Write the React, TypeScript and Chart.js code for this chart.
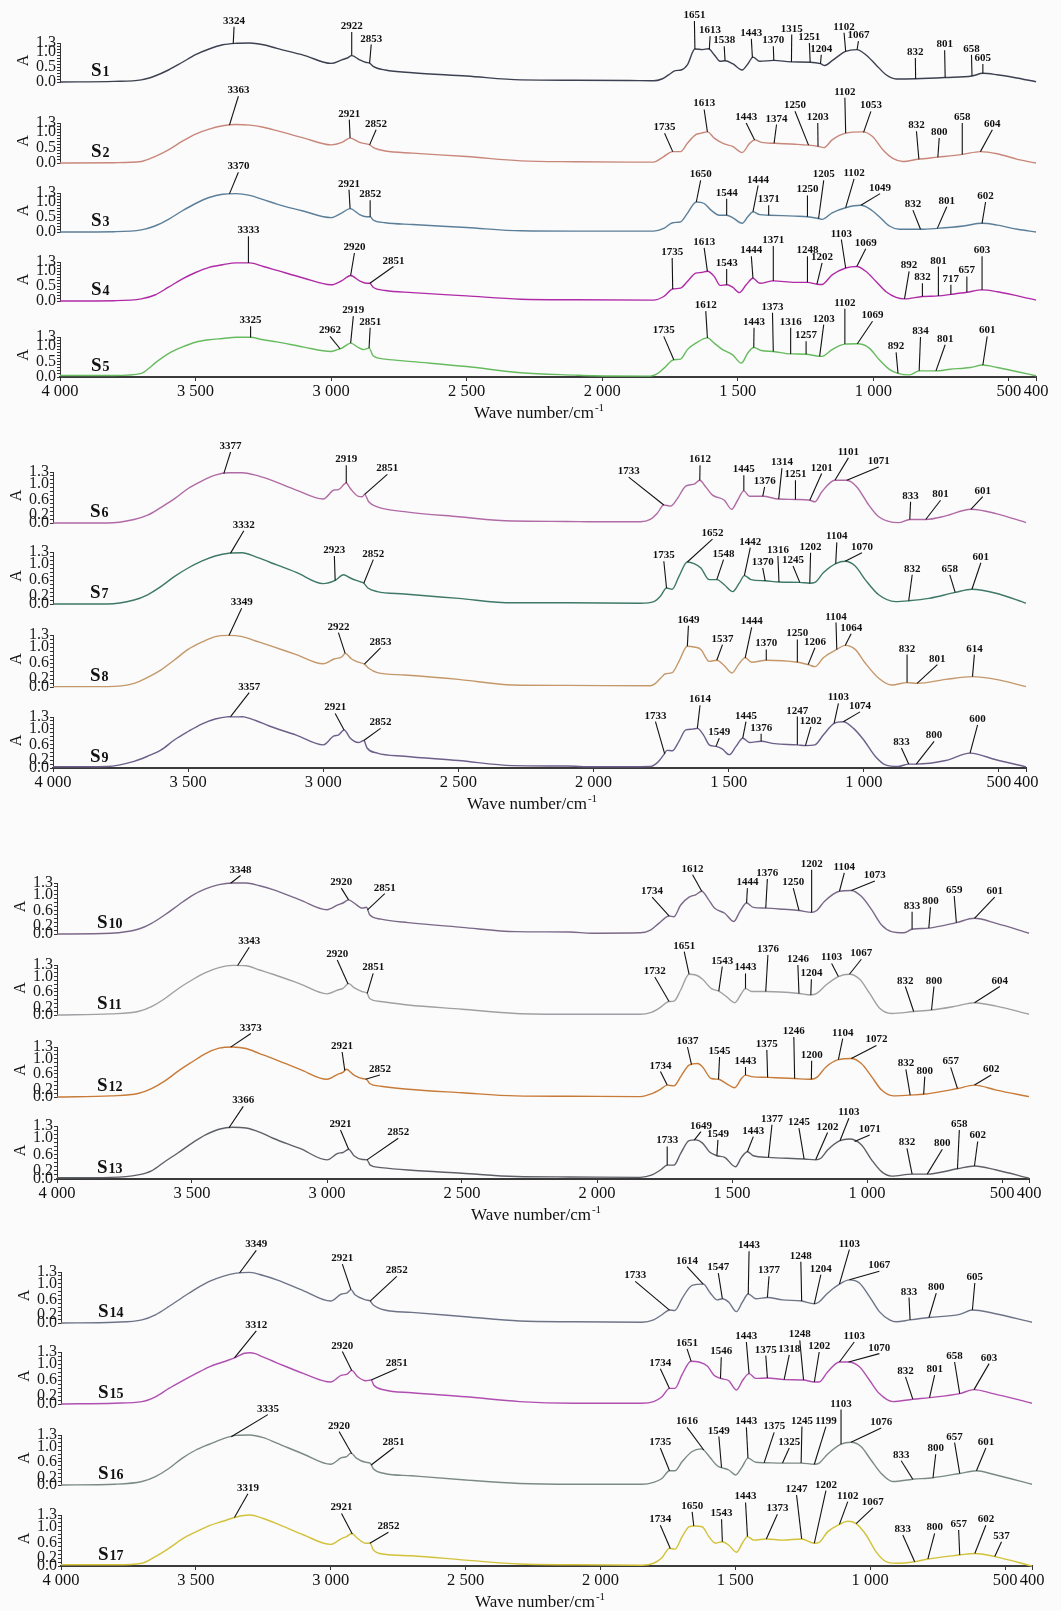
import React, { useEffect, useRef } from 'react';
import { Chart, registerables } from 'chart.js';
Chart.register(...registerables);

type Pt = [number, number];
type Peak = [string, number, number, number]; // label, wavenumber on curve, label wavenumber, label height (A)

const X_TICKS = [4000, 3500, 3000, 2500, 2000, 1500, 1000, 500, 400];
const Y_LABELS_A = [0, 0.5, 1.0, 1.3];
const Y_LABELS_B = [0, 0.2, 0.6, 1.0, 1.3];
const SAMPLE_NAMES = ['S1','S2','S3','S4','S5','S6','S7','S8','S9','S10','S11','S12','S13','S14','S15','S16','S17'];
const SAMPLE_COLORS = ['#3c4050','#c8877a','#5b7f99','#b02aa8','#66bb5e','#b06aa5','#3e7868','#c4986a','#6c5f8a','#7a6888','#a0a0a4','#c87a38','#5e6068','#6e7488','#b04fb0','#7c8a84','#d2c23a'];

const S1_CURVE: Pt[] = [[4000,0.0],[3800,0.02],[3700,0.07],[3650,0.20],[3600,0.40],[3550,0.65],[3500,0.91],[3450,1.10],[3400,1.24],[3350,1.29],[3300,1.30],[3250,1.24],[3200,1.12],[3100,0.89],[3000,0.62],[2960,0.74],[2940,0.80],[2924,0.88],[2895,0.74],[2870,0.65],[2858,0.63],[2845,0.52],[2800,0.40],[2700,0.31],[2500,0.20],[2300,0.07],[2100,0.06],[1900,0.05],[1811,0.04],[1780,0.10],[1755,0.24],[1730,0.38],[1709,0.40],[1686,0.57],[1658,1.10],[1630,1.08],[1608,1.11],[1587,0.91],[1565,0.69],[1547,0.71],[1519,0.61],[1484,0.40],[1463,0.60],[1444,0.83],[1419,0.69],[1367,0.72],[1304,0.67],[1233,0.66],[1195,0.61],[1179,0.55],[1152,0.71],[1102,1.02],[1061,1.08],[1028,0.91],[990,0.57],[953,0.24],[916,0.10],[844,0.11],[735,0.15],[636,0.20],[596,0.29],[543,0.24],[481,0.15],[400,0.01]];
const S1_PEAKS: Peak[] = [['3324',3361,3358,1.84],['2922',2924,2924,1.67],['2853',2858,2852,1.25],['1651',1658,1660,2.03],['1613',1605,1602,1.53],['1538',1547,1550,1.19],['1443',1446,1450,1.44],['1370',1367,1369,1.19],['1315',1302,1301,1.58],['1251',1233,1236,1.30],['1204',1195,1192,0.91],['1102',1102,1108,1.64],['1067',1060,1055,1.36],['832',844,845,0.80],['801',735,737,1.06],['658',636,638,0.91],['605',596,596,0.60]];

const S2_CURVE: Pt[] = [[4000,0.0],[3800,0.01],[3700,0.05],[3650,0.21],[3600,0.43],[3550,0.70],[3500,0.94],[3450,1.10],[3400,1.21],[3350,1.25],[3300,1.23],[3250,1.16],[3200,1.05],[3100,0.81],[3000,0.59],[2960,0.67],[2930,0.81],[2895,0.67],[2870,0.62],[2858,0.59],[2840,0.48],[2800,0.39],[2700,0.32],[2500,0.21],[2300,0.07],[2100,0.04],[1900,0.03],[1811,0.03],[1798,0.07],[1773,0.21],[1740,0.37],[1711,0.37],[1686,0.64],[1655,0.92],[1635,0.97],[1612,1.01],[1587,0.81],[1550,0.62],[1519,0.54],[1484,0.34],[1456,0.64],[1438,0.75],[1413,0.67],[1363,0.64],[1289,0.61],[1239,0.58],[1204,0.54],[1183,0.50],[1152,0.75],[1102,0.97],[1040,1.01],[1003,0.86],[965,0.43],[928,0.15],[891,0.05],[835,0.12],[760,0.19],[671,0.28],[605,0.37],[543,0.30],[468,0.12],[400,0.0]];
const S2_PEAKS: Peak[] = [['3363',3375,3342,2.17],['2921',2930,2933,1.41],['2852',2858,2834,1.08],['1735',1740,1770,0.97],['1613',1612,1624,1.74],['1443',1438,1469,1.30],['1374',1366,1357,1.25],['1250',1239,1289,1.68],['1203',1204,1205,1.30],['1102',1102,1105,2.12],['1053',1036,1009,1.68],['832',832,841,1.03],['800',762,757,0.81],['658',672,672,1.30],['604',605,561,1.08]];

const S3_CURVE: Pt[] = [[4000,0.0],[3800,0.01],[3700,0.07],[3650,0.20],[3600,0.42],[3550,0.70],[3500,0.95],[3450,1.15],[3400,1.26],[3350,1.28],[3300,1.22],[3250,1.08],[3200,0.93],[3100,0.69],[3000,0.48],[2960,0.64],[2930,0.78],[2895,0.58],[2870,0.51],[2856,0.51],[2845,0.40],[2800,0.31],[2700,0.25],[2500,0.15],[2300,0.04],[2100,0.03],[1811,0.03],[1773,0.12],[1740,0.31],[1711,0.34],[1686,0.62],[1653,1.00],[1624,0.95],[1599,0.73],[1568,0.56],[1541,0.56],[1519,0.48],[1484,0.29],[1463,0.51],[1444,0.67],[1419,0.58],[1386,0.56],[1289,0.53],[1243,0.51],[1202,0.45],[1189,0.42],[1152,0.64],[1102,0.81],[1046,0.89],[1015,0.78],[978,0.51],[941,0.20],[903,0.09],[826,0.09],[764,0.12],[667,0.20],[599,0.29],[543,0.23],[468,0.09],[400,0.0]];
const S3_PEAKS: Peak[] = [['3370',3375,3342,1.99],['2921',2930,2934,1.41],['2852',2856,2856,1.06],['1650',1653,1637,1.72],['1544',1541,1541,1.11],['1444',1444,1425,1.55],['1371',1386,1386,0.89],['1250',1243,1243,1.22],['1205',1202,1183,1.72],['1102',1102,1071,1.77],['1049',1046,975,1.28],['832',826,854,0.73],['801',764,729,0.84],['602',599,586,1.00]];

const S4_CURVE: Pt[] = [[4000,0.0],[3800,0.01],[3700,0.07],[3650,0.20],[3600,0.46],[3550,0.73],[3500,0.95],[3450,1.12],[3400,1.21],[3350,1.27],[3300,1.27],[3250,1.15],[3200,1.02],[3100,0.76],[3000,0.54],[2960,0.68],[2928,0.85],[2895,0.67],[2870,0.59],[2857,0.59],[2845,0.46],[2800,0.35],[2700,0.28],[2500,0.17],[2300,0.06],[2100,0.04],[1811,0.03],[1773,0.15],[1740,0.40],[1711,0.43],[1686,0.65],[1655,0.93],[1635,0.95],[1612,0.99],[1587,0.82],[1565,0.52],[1541,0.54],[1519,0.46],[1494,0.28],[1469,0.54],[1444,0.76],[1419,0.59],[1369,0.67],[1289,0.62],[1243,0.62],[1208,0.56],[1190,0.55],[1152,0.87],[1102,1.10],[1061,1.15],[1028,0.99],[990,0.65],[953,0.31],[916,0.12],[885,0.07],[819,0.15],[760,0.17],[714,0.22],[655,0.29],[599,0.37],[543,0.31],[468,0.17],[400,0.03]];
const S4_PEAKS: Peak[] = [['3333',3305,3305,2.16],['2920',2928,2914,1.60],['2851',2857,2770,1.15],['1735',1740,1742,1.43],['1613',1612,1624,1.77],['1543',1541,1541,1.07],['1444',1444,1450,1.49],['1371',1369,1369,1.83],['1248',1243,1243,1.49],['1202',1208,1189,1.27],['1103',1102,1118,2.05],['1069',1061,1028,1.74],['892',885,868,0.99],['832',819,819,0.59],['801',760,760,1.15],['717',714,714,0.54],['657',655,655,0.82],['603',599,599,1.49]];

const S5_CURVE: Pt[] = [[4000,0.05],[3800,0.05],[3700,0.12],[3670,0.30],[3650,0.45],[3600,0.76],[3550,0.97],[3500,1.13],[3450,1.21],[3400,1.25],[3350,1.29],[3300,1.29],[3250,1.21],[3200,1.14],[3100,0.97],[3000,0.83],[2970,0.91],[2960,0.94],[2928,1.10],[2900,0.96],[2880,0.89],[2860,0.94],[2845,0.69],[2800,0.58],[2700,0.50],[2500,0.34],[2300,0.14],[2100,0.06],[2034,0.04],[1823,0.03],[1798,0.10],[1773,0.28],[1736,0.56],[1711,0.58],[1686,0.89],[1655,1.10],[1612,1.27],[1587,1.10],[1556,0.89],[1519,0.72],[1487,0.45],[1463,0.78],[1441,0.96],[1413,0.86],[1369,0.83],[1305,0.75],[1248,0.74],[1198,0.67],[1183,0.69],[1152,0.89],[1105,1.07],[1059,1.08],[1015,0.94],[978,0.56],[941,0.25],[909,0.12],[866,0.07],[831,0.20],[769,0.20],[717,0.25],[642,0.31],[596,0.39],[543,0.31],[468,0.17],[400,0.04]];
const S5_PEAKS: Peak[] = [['3325',3297,3297,1.65],['2962',2967,3004,1.32],['2919',2928,2918,1.98],['2851',2860,2856,1.60],['1735',1736,1773,1.32],['1612',1612,1618,2.14],['1443',1441,1440,1.60],['1373',1369,1372,2.09],['1316',1305,1305,1.60],['1257',1248,1248,1.16],['1203',1198,1183,1.70],['1102',1105,1105,2.22],['1069',1059,1003,1.81],['892',909,916,0.80],['834',831,826,1.30],['801',769,735,1.05],['601',596,580,1.32]];

const S6_CURVE: Pt[] = [[4000,0.0],[3800,0.0],[3700,0.09],[3650,0.20],[3600,0.40],[3550,0.62],[3500,0.88],[3450,1.07],[3400,1.22],[3350,1.28],[3300,1.28],[3250,1.22],[3200,1.11],[3100,0.84],[3000,0.61],[2960,0.84],[2944,0.85],[2915,1.02],[2900,0.88],[2870,0.68],[2856,0.67],[2847,0.73],[2832,0.54],[2800,0.41],[2700,0.29],[2500,0.16],[2300,0.05],[2100,0.04],[2001,0.03],[1827,0.03],[1790,0.09],[1765,0.24],[1740,0.46],[1715,0.43],[1690,0.62],[1659,0.94],[1628,0.99],[1607,1.09],[1585,0.92],[1560,0.71],[1516,0.58],[1489,0.35],[1467,0.58],[1444,0.82],[1423,0.68],[1374,0.68],[1315,0.61],[1253,0.60],[1200,0.58],[1181,0.54],[1156,0.79],[1107,1.09],[1063,1.09],[1026,0.92],[982,0.46],[945,0.16],[871,0.01],[830,0.09],[771,0.09],[697,0.18],[604,0.35],[511,0.24],[400,0.01]];
const S6_PEAKS: Peak[] = [['3377',3368,3343,1.81],['2919',2915,2915,1.47],['2851',2847,2763,1.24],['1733',1740,1870,1.17],['1612',1607,1606,1.47],['1445',1444,1444,1.22],['1376',1374,1367,0.92],['1314',1315,1303,1.40],['1251',1253,1253,1.09],['1201',1200,1156,1.26],['1101',1107,1057,1.66],['1071',1063,945,1.43],['833',830,827,0.54],['801',771,716,0.58],['601',604,560,0.67]];

const S7_CURVE: Pt[] = [[4000,0.0],[3800,0.0],[3700,0.10],[3650,0.23],[3600,0.44],[3550,0.69],[3500,0.90],[3450,1.07],[3400,1.20],[3350,1.27],[3300,1.28],[3250,1.18],[3200,1.05],[3100,0.79],[3000,0.51],[2956,0.59],[2925,0.73],[2900,0.65],[2870,0.57],[2850,0.52],[2835,0.40],[2800,0.31],[2700,0.25],[2500,0.14],[2300,0.03],[2100,0.03],[1827,0.02],[1777,0.06],[1752,0.20],[1730,0.40],[1709,0.37],[1684,0.69],[1653,1.05],[1628,1.01],[1603,0.90],[1572,0.61],[1544,0.61],[1516,0.48],[1485,0.31],[1461,0.52],[1442,0.71],[1417,0.61],[1365,0.58],[1314,0.55],[1237,0.54],[1200,0.52],[1181,0.54],[1150,0.78],[1104,1.01],[1069,1.07],[1032,0.95],[995,0.61],[945,0.23],[883,0.06],[834,0.08],[759,0.14],[662,0.29],[600,0.37],[511,0.27],[400,0.02]];
const S7_PEAKS: Peak[] = [['3332',3343,3294,1.83],['2923',2956,2959,1.20],['2852',2850,2815,1.11],['1735',1730,1740,1.07],['1652',1653,1560,1.62],['1548',1544,1519,1.11],['1442',1442,1420,1.41],['1370',1365,1374,0.90],['1316',1314,1318,1.20],['1245',1237,1262,0.95],['1202',1200,1197,1.28],['1104',1104,1100,1.54],['1070',1069,1007,1.28],['832',834,821,0.73],['658',662,682,0.73],['601',600,567,1.03]];

const S8_CURVE: Pt[] = [[4000,0.01],[3800,0.01],[3700,0.09],[3650,0.24],[3600,0.43],[3550,0.68],[3500,0.94],[3450,1.12],[3400,1.26],[3350,1.29],[3300,1.26],[3250,1.15],[3200,1.04],[3100,0.81],[3000,0.58],[2960,0.70],[2932,0.75],[2919,0.84],[2895,0.70],[2870,0.62],[2848,0.57],[2832,0.47],[2800,0.36],[2700,0.30],[2500,0.19],[2300,0.05],[2100,0.04],[1790,0.03],[1771,0.09],[1752,0.22],[1734,0.33],[1709,0.36],[1684,0.64],[1653,1.02],[1628,1.00],[1603,0.94],[1572,0.64],[1544,0.67],[1516,0.53],[1488,0.35],[1464,0.56],[1439,0.73],[1415,0.62],[1361,0.67],[1246,0.62],[1206,0.56],[1181,0.51],[1150,0.73],[1100,0.94],[1069,1.04],[1032,0.94],[995,0.60],[945,0.22],[896,0.05],[840,0.11],[803,0.09],[697,0.19],[598,0.26],[511,0.19],[400,0.01]];
const S8_PEAKS: Peak[] = [['3349',3349,3302,1.97],['2922',2919,2944,1.36],['2853',2848,2788,0.98],['1649',1653,1649,1.53],['1537',1544,1523,1.06],['1444',1439,1415,1.49],['1370',1361,1361,0.94],['1250',1246,1246,1.19],['1206',1206,1181,0.98],['1104',1100,1103,1.61],['1064',1069,1047,1.33],['832',840,840,0.81],['801',803,728,0.56],['614',598,591,0.81]];

const S9_CURVE: Pt[] = [[4000,0.03],[3800,0.04],[3700,0.17],[3650,0.30],[3600,0.46],[3550,0.72],[3500,0.93],[3450,1.12],[3400,1.25],[3350,1.31],[3300,1.31],[3250,1.21],[3200,1.07],[3100,0.84],[3000,0.59],[2960,0.82],[2944,0.84],[2923,0.97],[2900,0.76],[2870,0.65],[2850,0.70],[2838,0.51],[2800,0.38],[2700,0.30],[2500,0.19],[2300,0.06],[2100,0.05],[2000,0.03],[1790,0.04],[1765,0.13],[1740,0.34],[1728,0.45],[1709,0.44],[1684,0.68],[1659,0.97],[1634,0.99],[1616,1.01],[1593,0.84],[1572,0.59],[1547,0.55],[1523,0.48],[1498,0.34],[1473,0.55],[1448,0.76],[1423,0.65],[1380,0.68],[1330,0.62],[1246,0.59],[1216,0.57],[1181,0.59],[1150,0.84],[1110,1.14],[1076,1.18],[1038,1.01],[1001,0.72],[958,0.30],[920,0.08],[873,0.04],[834,0.10],[806,0.10],[697,0.19],[607,0.38],[511,0.21],[400,0.03]];
const S9_PEAKS: Peak[] = [['3357',3343,3274,1.92],['2921',2923,2956,1.39],['2852',2850,2788,1.01],['1733',1737,1771,1.18],['1614',1616,1606,1.60],['1549',1547,1535,0.76],['1445',1448,1436,1.18],['1376',1380,1380,0.87],['1247',1246,1246,1.31],['1202',1216,1196,1.05],['1103',1110,1094,1.65],['1074',1076,1014,1.43],['833',834,861,0.51],['800',806,740,0.68],['600',607,579,1.10]];

const S10_CURVE: Pt[] = [[4000,0.0],[3800,0.02],[3700,0.12],[3650,0.27],[3600,0.49],[3550,0.74],[3500,0.98],[3450,1.15],[3400,1.26],[3350,1.30],[3300,1.30],[3250,1.23],[3200,1.13],[3100,0.87],[3000,0.62],[2960,0.74],[2941,0.79],[2920,0.87],[2900,0.79],[2870,0.66],[2854,0.68],[2842,0.49],[2800,0.38],[2700,0.29],[2500,0.17],[2300,0.06],[2100,0.05],[2021,0.02],[1840,0.03],[1802,0.10],[1771,0.27],[1733,0.46],[1715,0.44],[1690,0.74],[1659,0.94],[1635,1.00],[1612,1.09],[1590,0.91],[1565,0.66],[1527,0.53],[1493,0.32],[1471,0.57],[1446,0.79],[1421,0.68],[1375,0.66],[1308,0.63],[1252,0.60],[1205,0.55],[1186,0.60],[1158,0.83],[1102,1.09],[1058,1.11],[1021,0.96],[983,0.62],[946,0.23],[909,0.06],[865,0.03],[833,0.12],[771,0.15],[669,0.29],[602,0.40],[521,0.27],[400,0.02]];
const S10_PEAKS: Peak[] = [['3348',3357,3320,1.49],['2920',2920,2947,1.17],['2851',2850,2786,1.03],['1734',1733,1796,0.94],['1612',1612,1646,1.51],['1444',1446,1443,1.17],['1376',1375,1369,1.40],['1250',1252,1273,1.17],['1202',1205,1205,1.64],['1104',1102,1084,1.56],['1073',1058,971,1.35],['833',833,833,0.57],['800',771,765,0.68],['659',669,677,0.97],['601',602,527,0.94]];

const S11_CURVE: Pt[] = [[4000,0.0],[3800,0.03],[3700,0.09],[3650,0.22],[3600,0.43],[3550,0.69],[3500,0.91],[3450,1.10],[3400,1.23],[3350,1.29],[3300,1.28],[3250,1.17],[3200,1.06],[3100,0.81],[3000,0.55],[2960,0.65],[2941,0.69],[2920,0.82],[2900,0.71],[2870,0.61],[2851,0.56],[2842,0.43],[2800,0.35],[2700,0.26],[2500,0.15],[2300,0.04],[2100,0.02],[1840,0.02],[1802,0.06],[1771,0.17],[1733,0.35],[1715,0.36],[1690,0.65],[1659,1.06],[1634,1.04],[1609,0.93],[1577,0.69],[1549,0.62],[1521,0.48],[1490,0.32],[1465,0.56],[1450,0.69],[1427,0.61],[1375,0.61],[1252,0.56],[1208,0.52],[1186,0.56],[1152,0.78],[1106,1.00],[1065,1.06],[1027,0.93],[990,0.56],[952,0.17],[909,0.04],[827,0.09],[761,0.13],[671,0.23],[602,0.32],[521,0.23],[400,0.02]];
const S11_PEAKS: Peak[] = [['3343',3331,3288,1.76],['2920',2922,2962,1.43],['2851',2851,2829,1.08],['1732',1733,1786,0.99],['1651',1659,1677,1.65],['1543',1549,1536,1.26],['1443',1450,1450,1.08],['1376',1375,1367,1.56],['1246',1252,1256,1.30],['1204',1208,1206,0.93],['1103',1106,1131,1.34],['1067',1065,1021,1.45],['832',827,858,0.74],['800',761,752,0.74],['604',602,508,0.74]];

const S12_CURVE: Pt[] = [[4000,0.0],[3800,0.03],[3700,0.09],[3650,0.22],[3600,0.42],[3550,0.68],[3500,0.91],[3450,1.13],[3400,1.27],[3350,1.30],[3300,1.26],[3250,1.13],[3200,1.00],[3100,0.72],[3000,0.46],[2960,0.59],[2941,0.64],[2929,0.72],[2900,0.57],[2870,0.48],[2854,0.46],[2842,0.35],[2800,0.28],[2700,0.20],[2500,0.11],[2300,0.03],[2100,0.02],[1840,0.01],[1796,0.09],[1765,0.20],[1740,0.31],[1715,0.29],[1690,0.53],[1659,0.83],[1627,0.87],[1609,0.78],[1577,0.48],[1550,0.46],[1521,0.35],[1490,0.24],[1465,0.48],[1450,0.57],[1427,0.53],[1368,0.51],[1268,0.48],[1206,0.46],[1186,0.51],[1152,0.78],[1106,0.97],[1058,1.00],[1021,0.87],[983,0.53],[946,0.18],[902,0.03],[840,0.05],[790,0.07],[665,0.22],[602,0.31],[521,0.18],[400,0.01]];
const S12_PEAKS: Peak[] = [['3373',3357,3282,1.65],['2921',2934,2944,1.17],['2852',2857,2804,0.57],['1734',1740,1765,0.66],['1637',1650,1665,1.30],['1545',1550,1546,1.04],['1443',1450,1450,0.78],['1375',1368,1371,1.22],['1246',1268,1271,1.56],['1200',1206,1205,0.94],['1104',1106,1090,1.52],['1072',1058,965,1.34],['832',840,856,0.72],['800',790,786,0.53],['657',665,690,0.77],['602',602,540,0.57]];

const S13_CURVE: Pt[] = [[4000,0.03],[3800,0.04],[3700,0.10],[3650,0.20],[3600,0.43],[3550,0.65],[3500,0.88],[3450,1.08],[3400,1.22],[3350,1.27],[3300,1.25],[3250,1.15],[3200,1.00],[3100,0.75],[3000,0.47],[2960,0.63],[2941,0.65],[2920,0.73],[2900,0.57],[2870,0.48],[2852,0.47],[2840,0.34],[2800,0.28],[2700,0.22],[2500,0.14],[2300,0.06],[2100,0.05],[1840,0.04],[1796,0.10],[1765,0.22],[1740,0.34],[1715,0.34],[1690,0.63],[1659,0.94],[1634,0.96],[1609,0.88],[1584,0.67],[1556,0.57],[1527,0.53],[1487,0.30],[1465,0.53],[1443,0.67],[1421,0.57],[1365,0.53],[1233,0.49],[1190,0.47],[1171,0.51],[1146,0.71],[1100,0.94],[1065,0.98],[1021,0.84],[983,0.47],[946,0.18],[909,0.07],[833,0.12],[777,0.12],[665,0.25],[602,0.32],[521,0.22],[400,0.02]];
const S13_PEAKS: Peak[] = [['3366',3363,3310,1.78],['2921',2920,2950,1.20],['2852',2852,2736,1.00],['1733',1740,1740,0.80],['1649',1640,1615,1.16],['1549',1556,1552,0.96],['1443',1443,1421,1.04],['1377',1365,1352,1.33],['1245',1233,1252,1.25],['1202',1190,1146,1.14],['1103',1100,1067,1.49],['1071',1046,990,1.08],['832',833,852,0.75],['800',777,721,0.73],['658',665,658,1.20],['602',602,590,0.92]];

const S14_CURVE: Pt[] = [[4000,0.0],[3800,0.02],[3700,0.08],[3650,0.21],[3600,0.42],[3550,0.65],[3500,0.87],[3450,1.06],[3400,1.19],[3350,1.27],[3300,1.29],[3250,1.21],[3200,1.10],[3100,0.82],[3000,0.56],[2960,0.74],[2941,0.76],[2925,0.85],[2910,0.72],[2870,0.59],[2854,0.56],[2842,0.46],[2800,0.33],[2700,0.27],[2500,0.16],[2300,0.05],[2100,0.03],[1846,0.02],[1803,0.08],[1772,0.21],[1744,0.33],[1724,0.32],[1697,0.63],[1660,0.96],[1619,0.99],[1592,0.76],[1567,0.59],[1548,0.62],[1524,0.53],[1496,0.29],[1474,0.53],[1452,0.74],[1424,0.62],[1381,0.65],[1325,0.59],[1254,0.56],[1207,0.49],[1191,0.53],[1158,0.76],[1114,0.99],[1077,1.10],[1040,1.02],[1003,0.68],[966,0.29],[928,0.08],[904,0.03],[852,0.08],[782,0.14],[668,0.22],[621,0.33],[544,0.25],[400,0.02]];
const S14_PEAKS: Peak[] = [['3349',3338,3276,1.85],['2921',2925,2957,1.50],['2852',2854,2755,1.19],['1733',1744,1871,1.06],['1614',1619,1679,1.44],['1547',1548,1563,1.27],['1443',1452,1449,1.83],['1377',1381,1375,1.19],['1248',1254,1257,1.56],['1204',1207,1183,1.23],['1103',1114,1077,1.87],['1067',1077,966,1.32],['833',852,856,0.65],['800',782,755,0.76],['605',621,612,1.02]];

const S15_CURVE: Pt[] = [[4000,0.0],[3800,0.02],[3700,0.06],[3650,0.18],[3600,0.39],[3550,0.58],[3500,0.76],[3450,0.93],[3400,1.05],[3350,1.17],[3320,1.27],[3300,1.28],[3280,1.26],[3250,1.17],[3200,1.03],[3100,0.76],[3000,0.55],[2960,0.72],[2941,0.74],[2922,0.84],[2900,0.68],[2870,0.58],[2850,0.60],[2840,0.47],[2800,0.35],[2700,0.28],[2500,0.18],[2300,0.06],[2100,0.02],[1846,0.02],[1803,0.06],[1772,0.18],[1744,0.39],[1724,0.39],[1697,0.74],[1664,1.07],[1635,1.05],[1604,0.95],[1579,0.72],[1555,0.64],[1524,0.58],[1496,0.35],[1472,0.60],[1449,0.76],[1424,0.64],[1381,0.65],[1319,0.61],[1247,0.60],[1207,0.55],[1189,0.55],[1158,0.80],[1114,1.05],[1080,1.05],[1040,0.93],[1003,0.60],[966,0.26],[916,0.06],[842,0.12],[780,0.16],[668,0.26],[615,0.36],[544,0.26],[400,0.02]];
const S15_PEAKS: Peak[] = [['3312',3357,3276,1.83],['2920',2922,2957,1.31],['2851',2850,2755,0.88],['1734',1744,1778,0.88],['1651',1664,1679,1.38],['1546',1555,1552,1.17],['1443',1449,1459,1.55],['1375',1381,1387,1.21],['1318',1319,1300,1.23],['1248',1247,1261,1.59],['1202',1207,1189,1.30],['1103',1114,1059,1.55],['1070',1080,966,1.26],['832',842,869,0.68],['801',780,761,0.72],['658',668,687,1.05],['603',615,559,1.01]];

const S16_CURVE: Pt[] = [[4000,0.0],[3800,0.02],[3700,0.09],[3650,0.22],[3600,0.43],[3550,0.70],[3500,0.91],[3450,1.06],[3400,1.20],[3350,1.29],[3300,1.30],[3250,1.23],[3200,1.09],[3100,0.80],[3000,0.54],[2960,0.71],[2941,0.74],[2925,0.83],[2905,0.70],[2870,0.59],[2854,0.57],[2842,0.42],[2800,0.30],[2700,0.24],[2500,0.13],[2300,0.04],[2100,0.02],[1846,0.02],[1803,0.07],[1772,0.17],[1744,0.37],[1724,0.37],[1697,0.61],[1660,0.87],[1629,0.94],[1617,0.91],[1592,0.70],[1567,0.50],[1551,0.45],[1524,0.39],[1499,0.26],[1474,0.48],[1453,0.70],[1424,0.59],[1393,0.58],[1325,0.57],[1256,0.57],[1207,0.54],[1189,0.57],[1158,0.80],[1108,1.06],[1071,1.11],[1034,1.00],[997,0.65],[959,0.30],[916,0.09],[842,0.15],[767,0.19],[668,0.30],[606,0.37],[544,0.28],[400,0.02]];
const S16_PEAKS: Peak[] = [['3335',3369,3233,1.83],['2920',2922,2969,1.39],['2851',2850,2767,0.97],['1735',1744,1778,0.96],['1616',1617,1679,1.50],['1549',1551,1561,1.26],['1443',1453,1459,1.50],['1375',1393,1356,1.37],['1325',1325,1300,0.96],['1245',1256,1253,1.52],['1199',1207,1164,1.52],['1103',1108,1108,1.96],['1076',1071,959,1.48],['833',842,885,0.63],['800',767,757,0.80],['657',668,687,1.10],['601',606,571,0.96]];

const S17_CURVE: Pt[] = [[4000,0.03],[3800,0.03],[3700,0.07],[3650,0.24],[3600,0.45],[3550,0.69],[3500,0.87],[3450,1.03],[3400,1.14],[3350,1.25],[3300,1.30],[3250,1.21],[3200,1.08],[3100,0.79],[3000,0.55],[2960,0.70],[2941,0.75],[2922,0.83],[2900,0.70],[2870,0.58],[2854,0.58],[2842,0.41],[2800,0.30],[2700,0.26],[2500,0.15],[2300,0.05],[2100,0.03],[1846,0.02],[1803,0.07],[1772,0.21],[1744,0.45],[1724,0.43],[1697,0.75],[1672,1.00],[1654,1.02],[1623,1.00],[1598,0.75],[1573,0.58],[1548,0.62],[1524,0.53],[1496,0.35],[1474,0.58],[1455,0.75],[1431,0.66],[1385,0.69],[1325,0.66],[1254,0.69],[1207,0.58],[1189,0.60],[1158,0.87],[1114,1.06],[1083,1.14],[1052,1.08],[1015,0.79],[978,0.36],[941,0.11],[904,0.07],[835,0.11],[786,0.18],[668,0.28],[612,0.32],[538,0.24],[400,0.0]];
const S17_PEAKS: Peak[] = [['3319',3357,3307,1.84],['2921',2920,2960,1.34],['2852',2855,2786,0.86],['1734',1741,1778,1.04],['1650',1654,1660,1.38],['1543',1548,1551,1.19],['1443',1455,1462,1.62],['1373',1385,1344,1.32],['1247',1254,1273,1.81],['1202',1207,1164,1.92],['1102',1114,1083,1.64],['1067',1052,990,1.48],['833',835,879,0.79],['800',786,761,0.83],['657',668,672,0.92],['602',612,571,1.04],['537',538,513,0.62]];

const CURVES: Pt[][] = [S1_CURVE,S2_CURVE,S3_CURVE,S4_CURVE,S5_CURVE,S6_CURVE,S7_CURVE,S8_CURVE,S9_CURVE,S10_CURVE,S11_CURVE,S12_CURVE,S13_CURVE,S14_CURVE,S15_CURVE,S16_CURVE,S17_CURVE];
const PEAKS: Peak[][] = [S1_PEAKS,S2_PEAKS,S3_PEAKS,S4_PEAKS,S5_PEAKS,S6_PEAKS,S7_PEAKS,S8_PEAKS,S9_PEAKS,S10_PEAKS,S11_PEAKS,S12_PEAKS,S13_PEAKS,S14_PEAKS,S15_PEAKS,S16_PEAKS,S17_PEAKS];

// ---- layout (pixel positions, styles) ----
const W = 1061;
const PADTOP = 100;
const YW = 50;
const SERIF = '"Liberation Serif", "Times New Roman", serif';
const PANELS = [
  { left: 60, right: 1036, yLabels: Y_LABELS_A, sOff: 31, subs: [[82, 43], [163, 123], [232, 193], [301, 262], [377, 337]] },
  { left: 53, right: 1026, yLabels: Y_LABELS_B, sOff: 37, subs: [[523, 472], [604, 552], [687, 635], [768, 717]] },
  { left: 57, right: 1029, yLabels: Y_LABELS_B, sOff: 40, subs: [[934, 883], [1015, 965], [1097, 1047], [1179, 1126]] },
  { left: 61, right: 1032, yLabels: Y_LABELS_B, sOff: 37, subs: [[1323, 1272], [1404, 1352], [1485, 1435], [1566, 1515]] },
];

interface SubCfg {
  idx: number; name: string; color: string; curve: Pt[]; peaks: Peak[];
  left: number; right: number; zero: number; top: number; isBottom: boolean; yLabels: number[]; sOff: number;
}

const SUBS: SubCfg[] = (() => {
  const out: SubCfg[] = [];
  let k = 0;
  PANELS.forEach((p) => {
    p.subs.forEach(([zero, top], j) => {
      out.push({
        idx: k, name: SAMPLE_NAMES[k], color: SAMPLE_COLORS[k], curve: CURVES[k], peaks: PEAKS[k],
        left: p.left, right: p.right, zero, top, isBottom: j === p.subs.length - 1, yLabels: p.yLabels, sOff: p.sOff,
      });
      k++;
    });
  });
  return out;
})();

function interp(curve: Pt[], w: number): number {
  for (let i = 0; i < curve.length - 1; i++) {
    const [x0, y0] = curve[i];
    const [x1, y1] = curve[i + 1];
    if ((w <= x0 && w >= x1) || (w >= x0 && w <= x1)) {
      const t = x1 === x0 ? 0 : (w - x0) / (x1 - x0);
      return y0 + t * (y1 - y0);
    }
  }
  return curve[curve.length - 1][1];
}

function fmtWave(v: number): string {
  if (v >= 1000) return `${Math.floor(v / 1000)} ${String(v % 1000).padStart(3, '0')}`;
  return String(v);
}

const Y_MINOR = Array.from({ length: 14 }, (_, i) => i / 10);

function canvasHeight(s: SubCfg) {
  return PADTOP + (s.zero - s.top) + (s.isBottom ? 50 : 4);
}

function makePlugin(s: SubCfg) {
  return {
    id: 'annot' + s.idx,
    afterDatasetsDraw(chart: any) {
      const ctx: CanvasRenderingContext2D = chart.ctx;
      const xs = chart.scales.x;
      const ys = chart.scales.y;
      const area = chart.chartArea;
      ctx.save();
      ctx.strokeStyle = '#111';
      ctx.fillStyle = '#111';
      ctx.lineWidth = 1.1;
      ctx.font = `bold 11px ${SERIF}`;
      ctx.textAlign = 'center';
      ctx.textBaseline = 'alphabetic';
      for (const [label, pw, tw, ta] of s.peaks) {
        const x1 = xs.getPixelForValue(pw);
        const y1 = ys.getPixelForValue(interp(s.curve, pw));
        const x2 = xs.getPixelForValue(tw);
        const y2 = ys.getPixelForValue(ta);
        ctx.beginPath();
        ctx.moveTo(x1, y1);
        ctx.lineTo(x2, y2);
        ctx.stroke();
        ctx.fillText(label, x2, y2 - 3);
      }
      // sample label
      ctx.textAlign = 'left';
      ctx.font = `bold 19px ${SERIF}`;
      const sx = area.left + s.sOff;
      const sy = area.bottom - 6;
      ctx.fillText('S', sx, sy);
      const sw = ctx.measureText('S').width;
      ctx.font = `bold 14px ${SERIF}`;
      ctx.fillText(s.name.slice(1), sx + sw + 1, sy);
      // axis letter
      ctx.save();
      ctx.translate(area.left - 36, (area.top + area.bottom) / 2 - 2);
      ctx.rotate(-Math.PI / 2);
      ctx.font = `16px ${SERIF}`;
      ctx.textAlign = 'center';
      ctx.textBaseline = 'middle';
      ctx.fillText('A', 0, 0);
      ctx.restore();
      if (s.isBottom) {
        ctx.font = `17px ${SERIF}`;
        ctx.textAlign = 'left';
        ctx.fillStyle = '#111';
        const tx = area.left + 414;
        const ty = area.bottom + 41;
        const main = 'Wave number/cm';
        ctx.fillText(main, tx, ty);
        const mw = ctx.measureText(main).width;
        ctx.font = `11px ${SERIF}`;
        ctx.fillText('-1', tx + mw + 1, ty - 7);
      }
      ctx.restore();
    },
  };
}

export default function App() {
  const refs = useRef<(HTMLCanvasElement | null)[]>([]);

  useEffect(() => {
    document.body.style.margin = '0';
    const charts: Chart[] = [];
    SUBS.forEach((s, i) => {
      const cv = refs.current[i];
      if (!cv) return;
      const chart = new Chart(cv, {
        type: 'line',
        data: {
          datasets: [{
            data: s.curve.map(([x, y]) => ({ x, y })),
            borderColor: s.color,
            borderWidth: 1.4,
            pointRadius: 0,
            fill: false,
            cubicInterpolationMode: 'monotone',
            clip: false,
          } as any],
        },
        options: {
          responsive: false,
          animation: false,
          devicePixelRatio: 1,
          events: [],
          layout: { padding: { top: PADTOP, left: s.left - YW, right: W - s.right, bottom: 4 } },
          plugins: { legend: { display: false }, tooltip: { enabled: false }, title: { display: false } },
          scales: {
            x: {
              type: 'linear',
              reverse: true,
              min: 400,
              max: 4000,
              display: s.isBottom,
              afterBuildTicks: (sc: any) => { sc.ticks = X_TICKS.map((v) => ({ value: v })); },
              afterFit: (sc: any) => {
                if (s.isBottom) { sc.height = 46; } else { sc.height = 0; }
                sc.paddingLeft = 0; sc.paddingRight = 0;
              },
              ticks: {
                autoSkip: false,
                maxRotation: 0,
                minRotation: 0,
                padding: 1,
                color: '#111',
                font: { family: SERIF, size: 16.5 },
                callback: (v: any) => fmtWave(Number(v)),
              },
              grid: { drawOnChartArea: false, drawTicks: true, tickLength: 4, color: '#333' },
              border: { display: true, color: '#3a3a3a', width: 2 },
            },
            y: {
              type: 'linear',
              min: 0,
              max: 1.3,
              afterBuildTicks: (sc: any) => { sc.ticks = Y_MINOR.map((v) => ({ value: v })); },
              afterFit: (sc: any) => { sc.width = YW; sc.paddingTop = 0; sc.paddingBottom = 0; },
              ticks: {
                autoSkip: false,
                padding: 1,
                color: '#1a1a1a',
                font: { family: SERIF, size: 16 },
                callback: (v: any) => {
                  const n = Number(v);
                  return s.yLabels.some((t) => Math.abs(t - n) < 1e-6) ? n.toFixed(1) : '';
                },
              },
              grid: { drawOnChartArea: false, drawTicks: true, tickLength: 3, color: '#333' },
              border: { display: true, color: '#333', width: 1 },
            },
          },
        } as any,
        plugins: [makePlugin(s) as any],
      });
      charts.push(chart);
    });
    return () => charts.forEach((c) => c.destroy());
  }, []);

  return (
    <div style={{ position: 'absolute', left: 0, top: 0, width: W, height: 1611, background: '#fbfbfb', overflow: 'hidden' }}>
      {SUBS.map((s, i) => {
        const h = canvasHeight(s);
        return (
          <canvas
            key={s.name}
            ref={(el) => { refs.current[i] = el; }}
            width={W}
            height={h}
            style={{ position: 'absolute', left: 0, top: s.top - PADTOP, width: W, height: h }}
          />
        );
      })}
    </div>
  );
}
